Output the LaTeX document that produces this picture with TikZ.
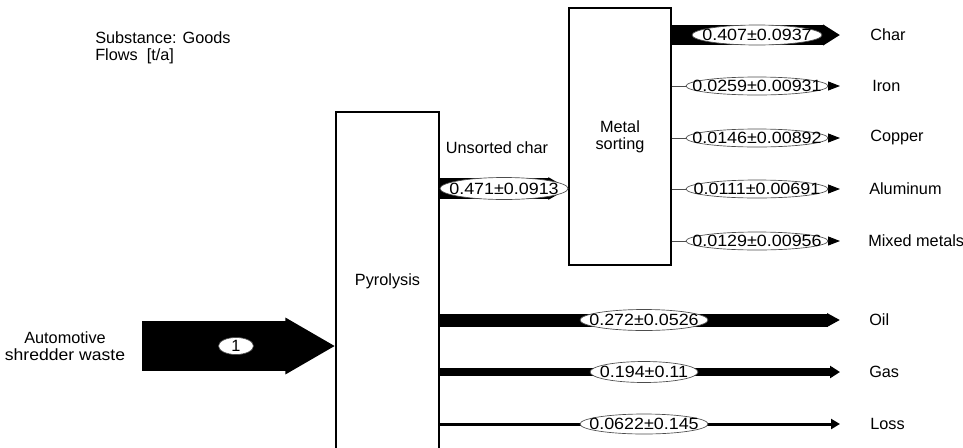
\documentclass[tikz,border=0pt]{standalone}
\usepackage{graphicx}
\usepackage{fontspec}
\setmainfont{Liberation Sans}
\usetikzlibrary{arrows.meta,shapes.geometric,calc}
% flow values are set slightly wider than the body text
\newcommand\flowval[1]{\scalebox{1.1}[1]{#1}}
\begin{document}
\begin{tikzpicture}[x=0.75pt,y=-0.75pt,
  every node/.style={font=\fontsize{12.2}{13}\selectfont},
  process/.style={draw=black,line width=0.8pt,fill=white,align=center,inner sep=0pt},
  tag/.style={anchor=west,inner sep=0pt},
  value/.style n args={2}{ellipse,draw=black!70,line width=0.5pt,fill=white,inner sep=0pt,
    minimum width=#1*0.75pt,minimum height=#2*0.75pt},
  band/.style={draw=black,line cap=butt},
  thinflow/.style={draw=black!70,line width=0.75pt,
    -{Triangle[length=9pt,width=6.75pt,color=black,fill=black]}},
  lbl/.style={inner sep=0pt}
]
% page frame
\clip (0,0) rectangle (963,447);

% header
\node[tag,align=left] (hdr) at (95,48) {Substance: Goods\\Flows~~[t/a]};

% processes
\node[process,minimum width=77.25pt,minimum height=253.5pt] (pyro) at (387.5,281) {Pyrolysis};
\node[process,minimum width=76.5pt,minimum height=192.75pt] (ms) at (620,136.5) {Metal\\sorting};

% source and sinks
\node[align=center,inner sep=0pt] (src) at (65,346) {Automotive\\\scalebox{1.08}[1]{shredder waste}};
\coordinate (srcend) at (142,346);
\node[tag] (char) at (870,35) {Char};
\node[tag] (iron) at (872,86) {Iron};
\node[tag] (copper) at (870,138) {Copper};
\node[tag] (alu) at (869,189) {Aluminum};
\node[tag] (mixed) at (868,241) {Mixed metals};
\node[tag] (oil) at (869,320) {Oil};
\node[tag] (gas) at (869,372) {Gas};
\node[tag] (loss) at (870,424) {Loss};
\coordinate (ucrow) at (0,188.5);
\node[inner sep=0pt] (uclabel) at (497,148) {Unsorted char};

% flows
\draw[band,line width=37.5pt,-{Triangle[length=37.5pt,width=39.75pt]}]
  (srcend) -- (pyro.west |- srcend);
\draw[band,line width=15.75pt,-{Triangle[length=15pt,width=15.75pt]}]
  (pyro.east |- ucrow) -- (ms.west |- ucrow);
\draw[band,line width=15pt,-{Triangle[length=12.75pt,width=15pt]}]
  (ms.east |- char.west) -- ($(char.west)+(-30,0)$);
\draw[thinflow] (ms.east |- iron.west) -- ($(iron.west)+(-32,0)$);
\draw[thinflow] (ms.east |- copper.west) -- ($(copper.west)+(-30,0)$);
\draw[thinflow] (ms.east |- alu.west) -- ($(alu.west)+(-29,0)$);
\draw[thinflow] (ms.east |- mixed.west) -- ($(mixed.west)+(-28,0)$);
\draw[band,line width=9.75pt,-{Triangle[length=9.75pt,width=9.75pt]}]
  (pyro.east |- oil.west) -- ($(oil.west)+(-29,0)$);
\draw[band,line width=6.4pt,-{Triangle[length=7.5pt,width=9pt]}]
  (pyro.east |- gas.west) -- ($(gas.west)+(-29,0)$);
\draw[band,line width=2.25pt,-{Triangle[length=6.75pt,width=7.5pt]}]
  (pyro.east |- loss.west) -- ($(loss.west)+(-30,0)$);

% flow values
\node[value={35}{17},label={[lbl]center:1}] (v1) at (236,346) {};
\node[value={128}{22},label={[lbl]center:\flowval{0.471±0.0913}}] (v2) at (504,188.5) {};
\node[value={130}{20},label={[lbl]center:\flowval{0.407±0.0937}}] (v3) at (757,35) {};
\node[value={142}{18},label={[lbl]center:\flowval{0.0259±0.00931}}] (v4) at (757,86) {};
\node[value={142}{18},label={[lbl]center:\flowval{0.0146±0.00892}}] (v5) at (757,138) {};
\node[value={142}{18},label={[lbl]center:\flowval{0.0111±0.00691}}] (v6) at (757,189) {};
\node[value={142}{18},label={[lbl]center:\flowval{0.0129±0.00956}}] (v7) at (757,241) {};
\node[value={128}{21},label={[lbl]center:\flowval{0.272±0.0526}}] (v8) at (644,320) {};
\node[value={108}{21},label={[lbl]center:\flowval{0.194±0.11}}] (v9) at (644,372) {};
\node[value={128}{20},label={[lbl]center:\flowval{0.0622±0.145}}] (v10) at (644,424) {};
\end{tikzpicture}
\end{document}
